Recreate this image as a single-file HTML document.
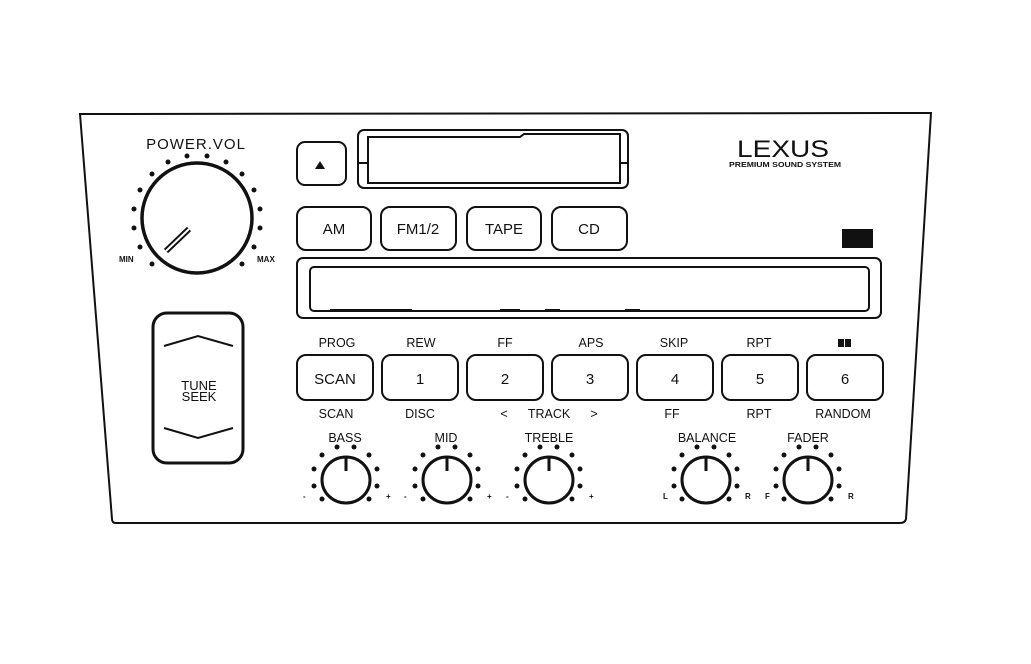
<!DOCTYPE html>
<html><head><meta charset="utf-8"><style>
html,body{margin:0;padding:0;background:#fff;}
svg{display:block;}
text{font-family:"Liberation Sans",sans-serif;fill:#111;}
</style></head><body>
<svg width="1031" height="664" viewBox="0 0 1031 664" xmlns="http://www.w3.org/2000/svg">
<g fill="none" stroke="#111">
<path d="M80,114 L931,113 L906,519 Q905,523 900,523 L116,523 Q112,523 112,519 Z" stroke-width="2"/>
<circle cx="197" cy="218" r="55" stroke-width="3.5"/>
<line x1="166" y1="251" x2="189" y2="229" stroke-width="6"/>
<line x1="166" y1="251" x2="189" y2="229" stroke="#fff" stroke-width="2"/>
<rect x="297" y="142" width="49" height="43" rx="8" stroke-width="2"/>
<rect x="358" y="130" width="270" height="58" rx="6" stroke-width="2"/>
<path d="M368,137 L520,137 L524,134 L620,134 L620,183 L368,183 Z" stroke-width="2"/>
<line x1="358" y1="163" x2="368" y2="163" stroke-width="2"/>
<line x1="620" y1="163" x2="628" y2="163" stroke-width="2"/>
<rect x="297" y="207" width="74" height="43" rx="9" stroke-width="2"/>
<rect x="381" y="207" width="75" height="43" rx="9" stroke-width="2"/>
<rect x="467" y="207" width="74" height="43" rx="9" stroke-width="2"/>
<rect x="552" y="207" width="75" height="43" rx="9" stroke-width="2"/>
<rect x="297" y="258" width="584" height="60" rx="6" stroke-width="2"/>
<rect x="310" y="267" width="559" height="44" rx="4" stroke-width="2"/>
<rect x="297" y="355" width="76" height="45" rx="9" stroke-width="2"/>
<rect x="382" y="355" width="76" height="45" rx="9" stroke-width="2"/>
<rect x="467" y="355" width="76" height="45" rx="9" stroke-width="2"/>
<rect x="552" y="355" width="76" height="45" rx="9" stroke-width="2"/>
<rect x="637" y="355" width="76" height="45" rx="9" stroke-width="2"/>
<rect x="722" y="355" width="76" height="45" rx="9" stroke-width="2"/>
<rect x="807" y="355" width="76" height="45" rx="9" stroke-width="2"/>
<rect x="153" y="313" width="90" height="150" rx="14" stroke-width="3"/>
<polyline points="164,346 198,336 233,346" stroke-width="2"/>
<polyline points="164,428 198,438 233,428" stroke-width="2"/>
<g stroke-width="2">
<line x1="330" y1="310" x2="412" y2="310"/>
<line x1="500" y1="310" x2="520" y2="310"/>
<line x1="545" y1="310" x2="560" y2="310"/>
<line x1="625" y1="310" x2="640" y2="310"/>
</g>
</g>
<rect x="842" y="229" width="31" height="19" fill="#111"/>
<g fill="#111">
<circle cx="187" cy="156" r="2.5"/><circle cx="207" cy="156" r="2.5"/>
<circle cx="168" cy="162" r="2.5"/><circle cx="226" cy="162" r="2.5"/>
<circle cx="152" cy="174" r="2.5"/><circle cx="242" cy="174" r="2.5"/>
<circle cx="140" cy="190" r="2.5"/><circle cx="254" cy="190" r="2.5"/>
<circle cx="134" cy="209" r="2.5"/><circle cx="260" cy="209" r="2.5"/>
<circle cx="134" cy="228" r="2.5"/><circle cx="260" cy="228" r="2.5"/>
<circle cx="140" cy="247" r="2.5"/><circle cx="254" cy="247" r="2.5"/>
<circle cx="152" cy="264" r="2.5"/><circle cx="242" cy="264" r="2.5"/>
<path d="M315,169 L320,161 L325,169 Z"/>
<rect x="838" y="339" width="6" height="8"/><rect x="845" y="339" width="6" height="8"/>
</g>
<defs>
<g id="knob">
<ellipse cx="0" cy="0" rx="24" ry="23" fill="none" stroke="#111" stroke-width="3"/>
<line x1="0" y1="-22" x2="0" y2="-9" stroke="#111" stroke-width="3"/>
<g fill="#111">
<circle cx="-9" cy="-33" r="2.5"/><circle cx="8" cy="-33" r="2.5"/>
<circle cx="-24" cy="-25" r="2.5"/><circle cx="23" cy="-25" r="2.5"/>
<circle cx="-32" cy="-11" r="2.5"/><circle cx="31" cy="-11" r="2.5"/>
<circle cx="-32" cy="6" r="2.5"/><circle cx="31" cy="6" r="2.5"/>
<circle cx="-24" cy="19" r="2.5"/><circle cx="23" cy="19" r="2.5"/>
</g>
</g>
</defs>
<use href="#knob" x="346" y="480"/>
<use href="#knob" x="447" y="480"/>
<use href="#knob" x="549" y="480"/>
<use href="#knob" x="706" y="480"/>
<use href="#knob" x="808" y="480"/>
<g font-size="8" font-weight="bold">
<text x="303" y="499">-</text><text x="386" y="499">+</text>
<text x="404" y="499">-</text><text x="487" y="499">+</text>
<text x="506" y="499">-</text><text x="589" y="499">+</text>
<text x="663" y="499">L</text><text x="745" y="499">R</text>
<text x="765" y="499">F</text><text x="848" y="499">R</text>
</g>
<text x="196" y="149" font-size="15" text-anchor="middle" letter-spacing="1">POWER.VOL</text>
<text x="119" y="262" font-size="8" font-weight="bold">MIN</text>
<text x="257" y="262" font-size="8" font-weight="bold">MAX</text>
<text x="737" y="157" font-size="24" textLength="92" lengthAdjust="spacingAndGlyphs">LEXUS</text>
<text x="729" y="167" font-size="7" font-weight="bold" textLength="112" lengthAdjust="spacingAndGlyphs">PREMIUM SOUND SYSTEM</text>
<g font-size="15" text-anchor="middle">
<text x="334" y="234">AM</text>
<text x="418" y="234">FM1/2</text>
<text x="504" y="234">TAPE</text>
<text x="589" y="234">CD</text>
<text x="335" y="384">SCAN</text>
<text x="420" y="384">1</text>
<text x="505" y="384">2</text>
<text x="590" y="384">3</text>
<text x="675" y="384">4</text>
<text x="760" y="384">5</text>
<text x="845" y="384">6</text>
</g>
<g font-size="12.5" text-anchor="middle">
<text x="337" y="347">PROG</text>
<text x="421" y="347">REW</text>
<text x="505" y="347">FF</text>
<text x="591" y="347">APS</text>
<text x="674" y="347">SKIP</text>
<text x="759" y="347">RPT</text>
<text x="336" y="418">SCAN</text>
<text x="420" y="418">DISC</text>
<text x="549" y="418">TRACK</text>
<text x="504" y="418">&lt;</text>
<text x="594" y="418">&gt;</text>
<text x="672" y="418">FF</text>
<text x="759" y="418">RPT</text>
<text x="843" y="418">RANDOM</text>
<text x="345" y="442">BASS</text>
<text x="446" y="442">MID</text>
<text x="549" y="442">TREBLE</text>
<text x="707" y="442">BALANCE</text>
<text x="808" y="442">FADER</text>
</g>
<g font-size="13" text-anchor="middle">
<text x="199" y="390">TUNE</text>
<text x="199" y="401">SEEK</text>
</g>
</svg>
</body></html>
